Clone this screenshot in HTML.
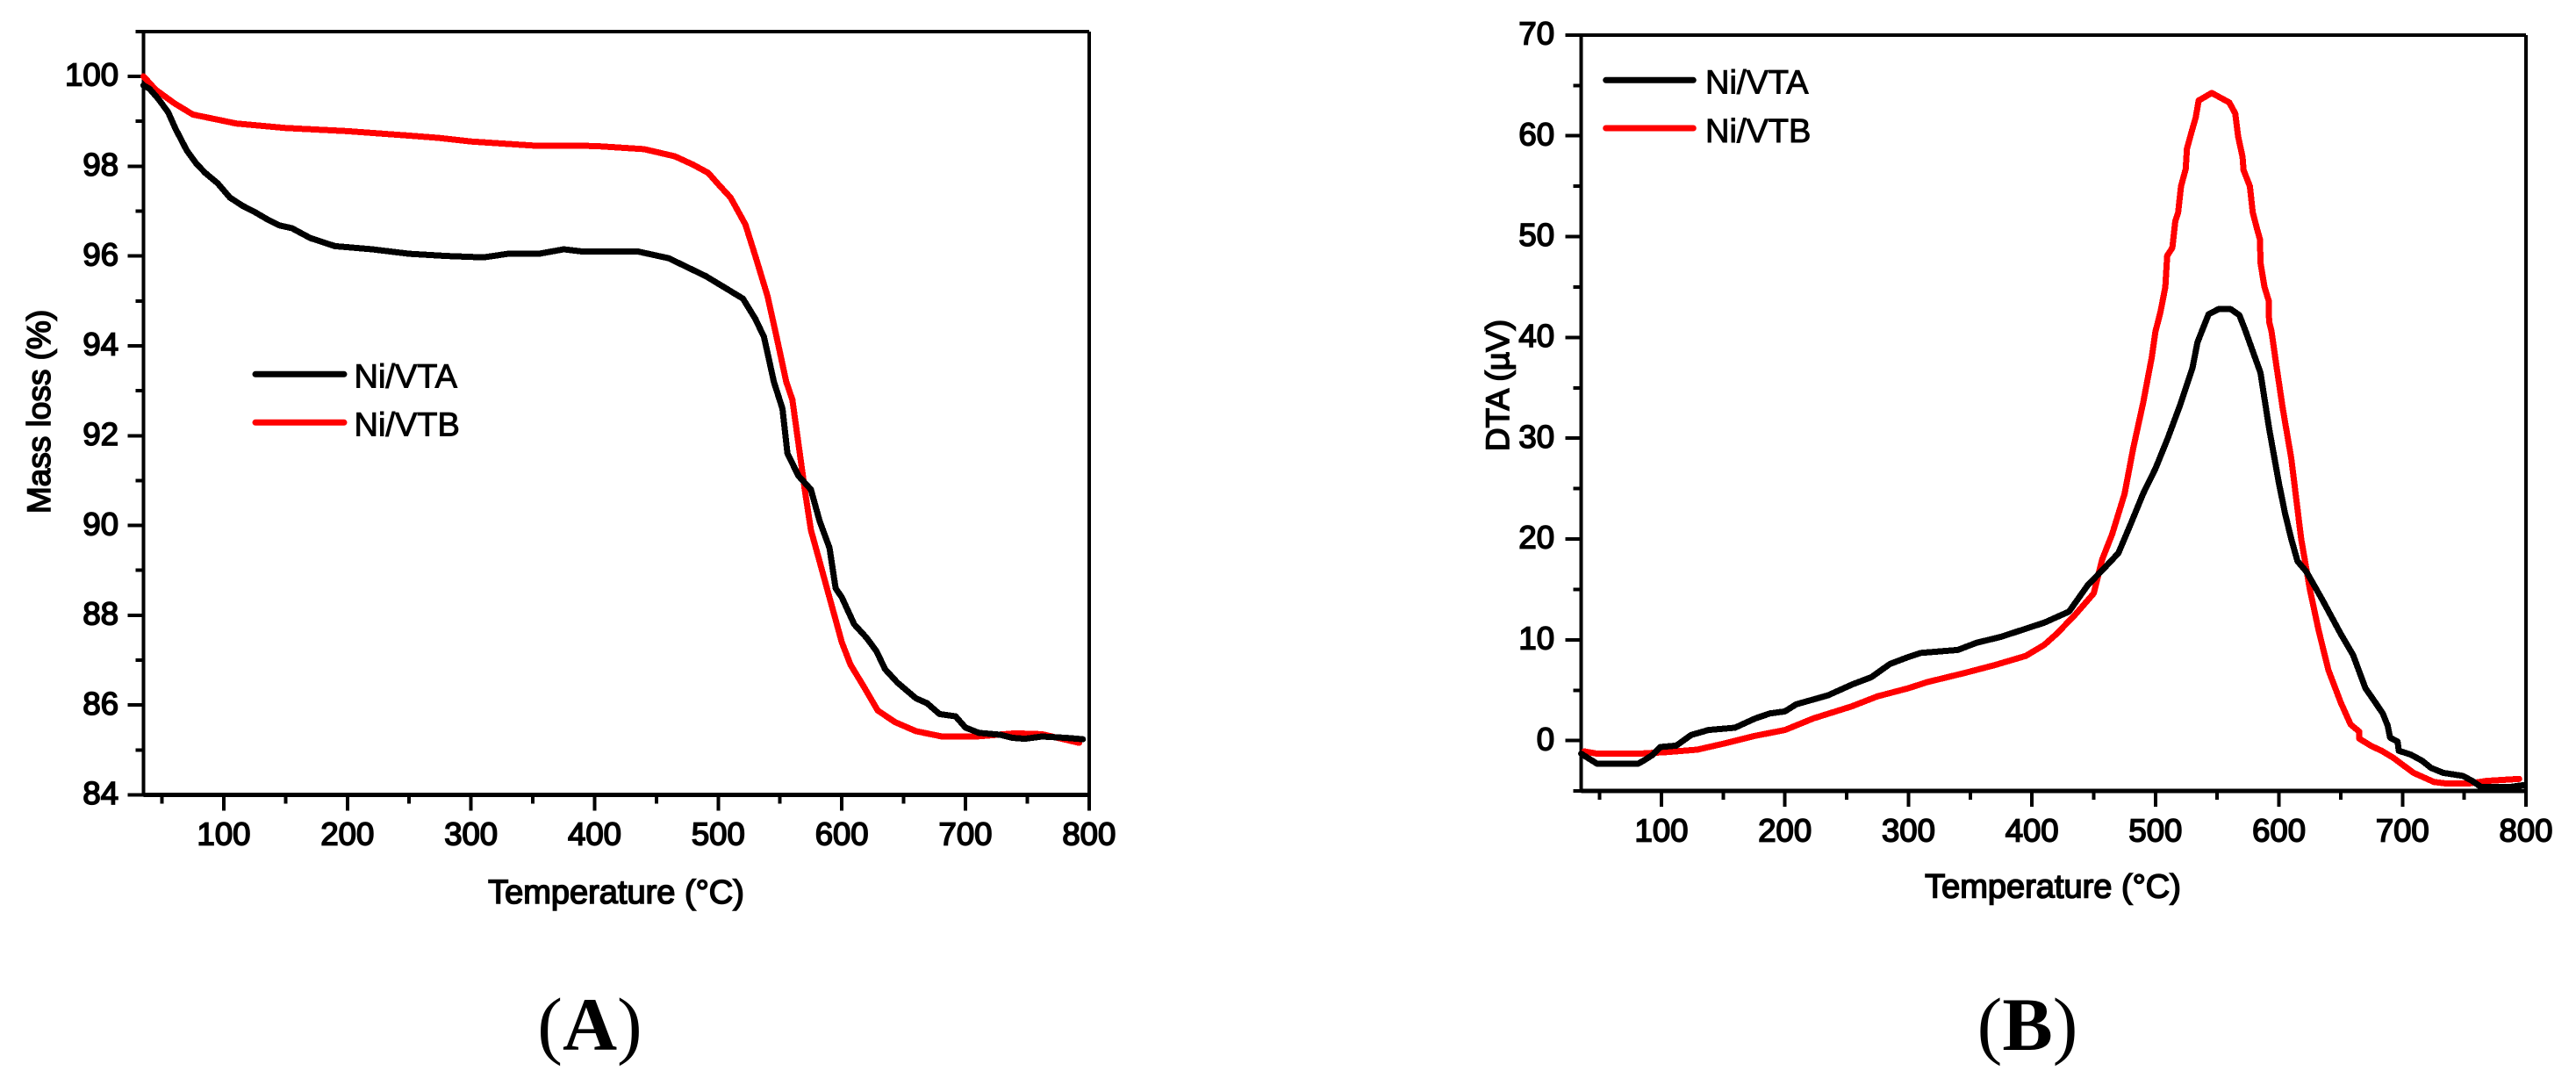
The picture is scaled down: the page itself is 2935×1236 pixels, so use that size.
<!DOCTYPE html>
<html lang="en">
<head>
<meta charset="utf-8">
<title>TGA and DTA curves of Ni/VTA and Ni/VTB</title>
<style>
html,body{margin:0;padding:0;background:#fff;}
body{width:2935px;height:1236px;overflow:hidden;}
svg{display:block;}
text{font-family:"Liberation Sans",Arial,sans-serif;fill:#000;}
.tick-label{font-size:36.5px;stroke:#000;stroke-width:1.7px;}
.axis-title{font-size:38px;stroke:#000;stroke-width:1.6px;}
.axis-title-y{font-size:37px;stroke:#000;stroke-width:1.6px;}
.legend-label{font-size:38px;stroke:#000;stroke-width:1px;}
.panel-label{font-family:"Liberation Serif","Times New Roman",serif;font-size:86px;}
.panel-label .bold{font-weight:bold;}
.axis-line{stroke:#000;shape-rendering:crispEdges;fill:none;}
.series{fill:none;stroke-width:7;stroke-linejoin:round;stroke-linecap:round;shape-rendering:crispEdges;}
</style>
</head>
<body>
<svg id="figure" xmlns="http://www.w3.org/2000/svg" width="2935" height="1236" viewBox="0 0 2935 1236">
  <rect x="0" y="0" width="2935" height="1236" fill="#fff"/>

  <g id="panel-a">
    <g id="a-axes"></g>
    <g id="a-series"></g>
    <text class="axis-title" x="702" y="1029" text-anchor="middle">Temperature (°C)</text>
    <text class="axis-title-y" transform="translate(57,469) rotate(-90)" text-anchor="middle">Mass loss (%)</text>
    <g>
      <line x1="291" y1="426.3" x2="392" y2="426.3" stroke="#000" stroke-width="7" stroke-linecap="round"/>
      <text class="legend-label" x="403.5" y="441.7">Ni/VTA</text>
      <line x1="291" y1="481.3" x2="392" y2="481.3" stroke="#f00" stroke-width="7" stroke-linecap="round"/>
      <text class="legend-label" x="403.5" y="496.7">Ni/VTB</text>
    </g>
    <text class="panel-label" x="672" y="1196" text-anchor="middle">(<tspan class="bold">A</tspan>)</text>
  </g>

  <g id="panel-b">
    <g id="b-axes"></g>
    <g id="b-series"></g>
    <text class="axis-title" x="2339" y="1022.7" text-anchor="middle">Temperature (°C)</text>
    <text class="axis-title-y" transform="translate(1719,439) rotate(-90)" text-anchor="middle">DTA (µV)</text>
    <g>
      <line x1="1829.7" y1="91.3" x2="1929.3" y2="91.3" stroke="#000" stroke-width="7" stroke-linecap="round"/>
      <text class="legend-label" x="1943" y="106.7">Ni/VTA</text>
      <line x1="1829.7" y1="146" x2="1929.3" y2="146" stroke="#f00" stroke-width="7" stroke-linecap="round"/>
      <text class="legend-label" x="1943" y="162">Ni/VTB</text>
    </g>
    <text class="panel-label" x="2310" y="1196" text-anchor="middle">(<tspan class="bold">B</tspan>)</text>
  </g>
</svg>

<script>
// Shared x-axis ticks
const xMajorTicks = [100, 200, 300, 400, 500, 600, 700, 800];
const xMinorTicks = [50, 150, 250, 350, 450, 550, 650, 750];

// Panel A: tick values
const aYMajorTicks = [84, 86, 88, 90, 92, 94, 96, 98, 100];
const aYMinorTicks = [85, 87, 89, 91, 93, 95, 97, 99, 101];

// Panel A: Ni/VTA mass loss
const aTempVTA = [35,40,47,55,61,70,78,85,95,105,115,125,135,145,155,170,190,220,250,280,310,330,355,375,390,420,435,460,475,490,505,520,530,537,541,545,552,556,565,575,582,590,595,600,610,620,628,635,645,660,669,679,692,700,711,728,738,748,762,781,795];
const aMassVTA = [99.8,99.72,99.5,99.2,98.83,98.35,98.05,97.85,97.62,97.3,97.12,96.98,96.82,96.68,96.62,96.4,96.22,96.15,96.05,96.0,95.97,96.05,96.05,96.15,96.1,96.1,96.1,95.95,95.75,95.55,95.3,95.05,94.6,94.2,93.7,93.2,92.6,91.6,91.1,90.8,90.1,89.5,88.6,88.4,87.8,87.5,87.2,86.8,86.5,86.15,86.04,85.8,85.75,85.5,85.38,85.34,85.27,85.25,85.3,85.27,85.24];

// Panel A: Ni/VTB mass loss
const aTempVTB = [35,45,60,75,96,110,150,200,250,274,300,350,400,440,465,480,492,500,510,522,530,540,548,555,560,565,570,575,582,588,595,600,607,618,629,643,660,681,709,740,762,792];
const aMassVTB = [100,99.7,99.4,99.15,99.03,98.95,98.85,98.78,98.68,98.63,98.55,98.46,98.45,98.38,98.22,98.03,97.85,97.6,97.3,96.7,96.0,95.1,94.1,93.2,92.8,91.8,90.8,89.9,89.2,88.6,87.9,87.4,86.9,86.4,85.88,85.62,85.42,85.3,85.3,85.37,85.35,85.16];

// Panel B: tick values
const bYMajorTicks = [0, 10, 20, 30, 40, 50, 60, 70];
const bYMinorTicks = [-5, 5, 15, 25, 35, 45, 55, 65];

// Panel B: Ni/VTA DTA signal
const bTempVTA = [35,48,81,86,93,99,112,124,138,159.5,176,188,200,209,235,255,270,285,300,310,340,355,375,395,410,430,445,460,470,480,490,500,510,520,530,534,538.5,543,551,561,568,572.7,585,592,600,605,610,615,622,635,650,660,670,678,684,688,690,696,697,707,716,723,733,749,756.5,763.6,787,799];
const bDtaVTA = [-1.3,-2.3,-2.3,-1.95,-1.4,-0.64,-0.5,0.56,1.05,1.28,2.2,2.7,2.9,3.6,4.5,5.6,6.3,7.6,8.3,8.7,9.0,9.7,10.3,11.1,11.7,12.8,15.4,17.3,18.6,21.5,24.5,27,30,33.3,37,39.5,40.9,42.3,42.8,42.8,42.2,40.7,36.5,31,25.5,22.5,20,17.8,16.8,14,10.6,8.5,5.2,3.8,2.7,1.5,0.3,-0.1,-1,-1.4,-2,-2.7,-3.2,-3.5,-4,-4.6,-4.6,-4.4];

// Panel B: Ni/VTB DTA signal
const bTempVTB = [37.5,48,81,105,129,152,176,200,223,254,275,300,315,345,370,395,410,420,435,450,457,465,475,482,490,497,500,504,508,509.5,513.7,516,518.4,520.7,524.5,525.5,529,532.6,535,545.6,559.8,564.6,567,570.5,571.3,576.4,578.8,582.4,584.7,585,588.3,591.8,592,594,597,603,610,618,625,632,640,650,658,665,665,675,683,692.5,709,725.5,735,754,768,794.5];
const bDtaVTB = [-1.07,-1.3,-1.3,-1.13,-0.9,-0.25,0.48,1.05,2.2,3.4,4.4,5.2,5.8,6.7,7.5,8.4,9.5,10.6,12.5,14.6,18,20.5,24.5,29,33.5,38,40.6,42.5,45,48.1,48.9,51.5,52.4,55,56.7,58.7,60.3,61.8,63.5,64.25,63.3,62.2,59.9,57.9,56.6,55,52.4,50.7,49.7,47.4,45,43.6,41.6,40.6,38,33,28,20,15,11,7,3.8,1.6,0.9,0.2,-0.55,-1,-1.7,-3.2,-4.1,-4.25,-4.25,-4,-3.8];

const SVG_NS = 'http://www.w3.org/2000/svg';

function linearScale(d0, d1, r0, r1) {
  return function (v) { return r0 + (v - d0) * (r1 - r0) / (d1 - d0); };
}

// Panel axis functions
const aX = linearScale(100, 800, 255, 1240.8);
const aY = linearScale(84, 100, 905.5, 87);
const bX = linearScale(100, 800, 1893, 2878);
const bY = linearScale(0, 60, 843.7, 154.7);

function addLine(parent, x1, y1, x2, y2, w) {
  const el = document.createElementNS(SVG_NS, 'line');
  el.setAttribute('x1', x1);
  el.setAttribute('y1', y1);
  el.setAttribute('x2', x2);
  el.setAttribute('y2', y2);
  el.setAttribute('stroke-width', w);
  el.setAttribute('class', 'axis-line');
  parent.appendChild(el);
  return el;
}

function addLabel(parent, x, y, anchor, value) {
  const el = document.createElementNS(SVG_NS, 'text');
  el.setAttribute('x', x);
  el.setAttribute('y', y);
  el.setAttribute('text-anchor', anchor);
  el.setAttribute('class', 'tick-label');
  el.textContent = String(value);
  parent.appendChild(el);
  return el;
}

function drawAxes(group, xFn, yFn, xMin, xMax, yMin, yMax, yMajor, yMinor, xLabelY, yLabelX) {
  const left = xFn(xMin), right = xFn(xMax), top = yFn(yMax), bottom = yFn(yMin);

  const spineTop = addLine(group, left, top, right, top, 4);
  
  
  const spineRight = addLine(group, right, top, right, bottom, 4);
  
  
  const spineLeft = addLine(group, left, top, left, bottom, 4);
  
  
  const spineBottom = addLine(group, left, bottom, right, bottom, 5);
  
  

  xMajorTicks.forEach(function (t) {
    const tick = addLine(group, xFn(t), bottom, xFn(t), bottom + 18, 4);
    
    
    const label = addLabel(group, xFn(t), xLabelY, 'middle', t);
    
    
  });
  xMinorTicks.forEach(function (t) {
    const tick = addLine(group, xFn(t), bottom, xFn(t), bottom + 10, 4);
    
    
  });
  yMajor.forEach(function (v) {
    const tick = addLine(group, left, yFn(v), left - 18, yFn(v), 4);
    
    
    const label = addLabel(group, yLabelX, yFn(v) + 10.7, 'end', v);
    
    
  });
  yMinor.forEach(function (v) {
    const tick = addLine(group, left, yFn(v), left - 9, yFn(v), 4);
    
    
  });
}

function drawSeries(group, xs, ys, xFn, yFn, color) {
  const el = document.createElementNS(SVG_NS, 'polyline');
  const pts = xs.map(function (t, i) {
    return xFn(t).toFixed(1) + ',' + yFn(ys[i]).toFixed(1);
  }).join(' ');
  el.setAttribute('points', pts);
  el.setAttribute('stroke', color);
  el.setAttribute('class', 'series');
  group.appendChild(el);
  return el;
}

const aAxesGroup = document.getElementById('a-axes');
const bAxesGroup = document.getElementById('b-axes');
const aSeriesGroup = document.getElementById('a-series');
const bSeriesGroup = document.getElementById('b-series');

drawAxes(aAxesGroup, aX, aY, 35, 800, 84, 101, aYMajorTicks, aYMinorTicks, 962.7, 135);
drawAxes(bAxesGroup, bX, bY, 35, 800, -5, 70, bYMajorTicks, bYMinorTicks, 958.7, 1771);

const aLineVTB = drawSeries(aSeriesGroup, aTempVTB, aMassVTB, aX, aY, '#f00');


const aLineVTA = drawSeries(aSeriesGroup, aTempVTA, aMassVTA, aX, aY, '#000');


const bLineVTB = drawSeries(bSeriesGroup, bTempVTB, bDtaVTB, bX, bY, '#f00');


const bLineVTA = drawSeries(bSeriesGroup, bTempVTA, bDtaVTA, bX, bY, '#000');


</script>
</body>
</html>
